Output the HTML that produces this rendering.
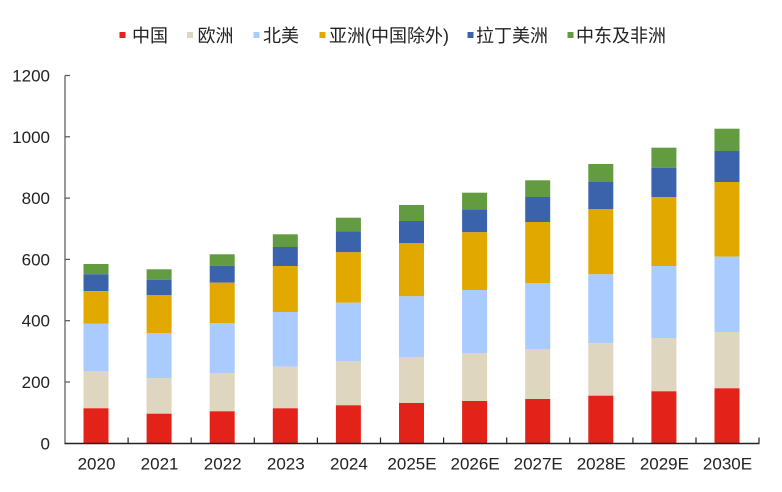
<!DOCTYPE html>
<html><head><meta charset="utf-8"><style>
html,body{margin:0;padding:0;background:#fff;}
svg{display:block;}
text{font-family:"Liberation Sans","Noto Sans CJK SC",sans-serif;fill:#222;}
</style></head><body>
<svg width="782" height="492" viewBox="0 0 782 492" xmlns="http://www.w3.org/2000/svg">
<!-- legend -->
<g font-size="18">
<rect x="119.5" y="32" width="6" height="6" fill="#E32219"/><text x="132" y="42">中国</text>
<rect x="187" y="32" width="6" height="6" fill="#DFD6BF"/><text x="197.5" y="42">欧洲</text>
<rect x="253.5" y="32" width="6" height="6" fill="#A9CBFD"/><text x="263" y="42">北美</text>
<rect x="319.5" y="32" width="6" height="6" fill="#E1A900"/><text x="329" y="42">亚洲(中国除外)</text>
<rect x="467.5" y="32" width="6" height="6" fill="#3B63AC"/><text x="476" y="42">拉丁美洲</text>
<rect x="567.5" y="32" width="6" height="6" fill="#629B40"/><text x="576" y="42">中东及非洲</text>
</g>
<!-- y labels -->
<g font-size="17" text-anchor="end">
<text x="50" y="449.3">0</text>
<text x="50" y="388">200</text>
<text x="50" y="326.7">400</text>
<text x="50" y="265.4">600</text>
<text x="50" y="204.1">800</text>
<text x="50" y="142.8">1000</text>
<text x="50" y="81.5">1200</text>
</g>
<!-- bars -->
<g id="bars"></g>
<!-- axes -->
<line x1="65" y1="75.5" x2="65" y2="443.5" stroke="#555" stroke-width="1.2"/>
<g stroke="#555" stroke-width="1.2">
<line x1="65" y1="75.5" x2="70" y2="75.5"/>
<line x1="65" y1="136.8" x2="70" y2="136.8"/>
<line x1="65" y1="198.1" x2="70" y2="198.1"/>
<line x1="65" y1="259.4" x2="70" y2="259.4"/>
<line x1="65" y1="320.7" x2="70" y2="320.7"/>
<line x1="65" y1="382" x2="70" y2="382"/>
</g>
<line x1="64.5" y1="443.5" x2="759.5" y2="443.5" stroke="#222" stroke-width="1.5"/>
<g stroke="#222" stroke-width="1.2">
<line x1="128.1" y1="443" x2="128.1" y2="437.5"/>
<line x1="191.2" y1="443" x2="191.2" y2="437.5"/>
<line x1="254.3" y1="443" x2="254.3" y2="437.5"/>
<line x1="317.4" y1="443" x2="317.4" y2="437.5"/>
<line x1="380.5" y1="443" x2="380.5" y2="437.5"/>
<line x1="443.6" y1="443" x2="443.6" y2="437.5"/>
<line x1="506.7" y1="443" x2="506.7" y2="437.5"/>
<line x1="569.8" y1="443" x2="569.8" y2="437.5"/>
<line x1="632.9" y1="443" x2="632.9" y2="437.5"/>
<line x1="696" y1="443" x2="696" y2="437.5"/>
<line x1="759" y1="443" x2="759" y2="437.5"/>
</g>
<!-- x labels -->
<g font-size="17" text-anchor="middle">
<text x="96.5" y="469.5">2020</text>
<text x="159.6" y="469.5">2021</text>
<text x="222.7" y="469.5">2022</text>
<text x="285.8" y="469.5">2023</text>
<text x="348.9" y="469.5">2024</text>
<text x="412" y="469.5">2025E</text>
<text x="475.1" y="469.5">2026E</text>
<text x="538.2" y="469.5">2027E</text>
<text x="601.3" y="469.5">2028E</text>
<text x="664.4" y="469.5">2029E</text>
<text x="727.5" y="469.5">2030E</text>
</g>
</svg>
<script>
(function(){
var d=[
[264,274.3,291.2,323.5,371,408.3],
[269.3,279.7,295.3,333,378,413.7],
[254.3,265.7,282.7,323.3,373,411.3],
[234.3,247,266,312,366.7,408.3],
[217.7,231.3,252.3,302.7,361.3,405.3],
[205,221,243,296.3,357,403],
[192.7,209.3,232.3,290,353,401],
[180.3,197,222,283,349,399],
[164,182,209.3,274.3,343.3,395.7],
[147.7,167.7,197,266,338,391.3],
[128.7,151,182,256.7,332,388.3]];
var cols=["#629B40","#3B63AC","#E1A900","#A9CBFD","#DFD6BF","#E32219"];
var g=document.getElementById("bars"),ns="http://www.w3.org/2000/svg",base=443.3;
for(var i=0;i<d.length;i++){
 var cx=96+63.1*i,x=cx-12.5;
 for(var j=0;j<6;j++){
  var top=d[i][j],bot=(j<5)?d[i][j+1]:base;
  var r=document.createElementNS(ns,"rect");
  r.setAttribute("x",x);r.setAttribute("y",top);
  r.setAttribute("width",25);r.setAttribute("height",bot-top);
  r.setAttribute("fill",cols[j]);
  g.appendChild(r);
 }
}
})();
</script>
</body></html>
